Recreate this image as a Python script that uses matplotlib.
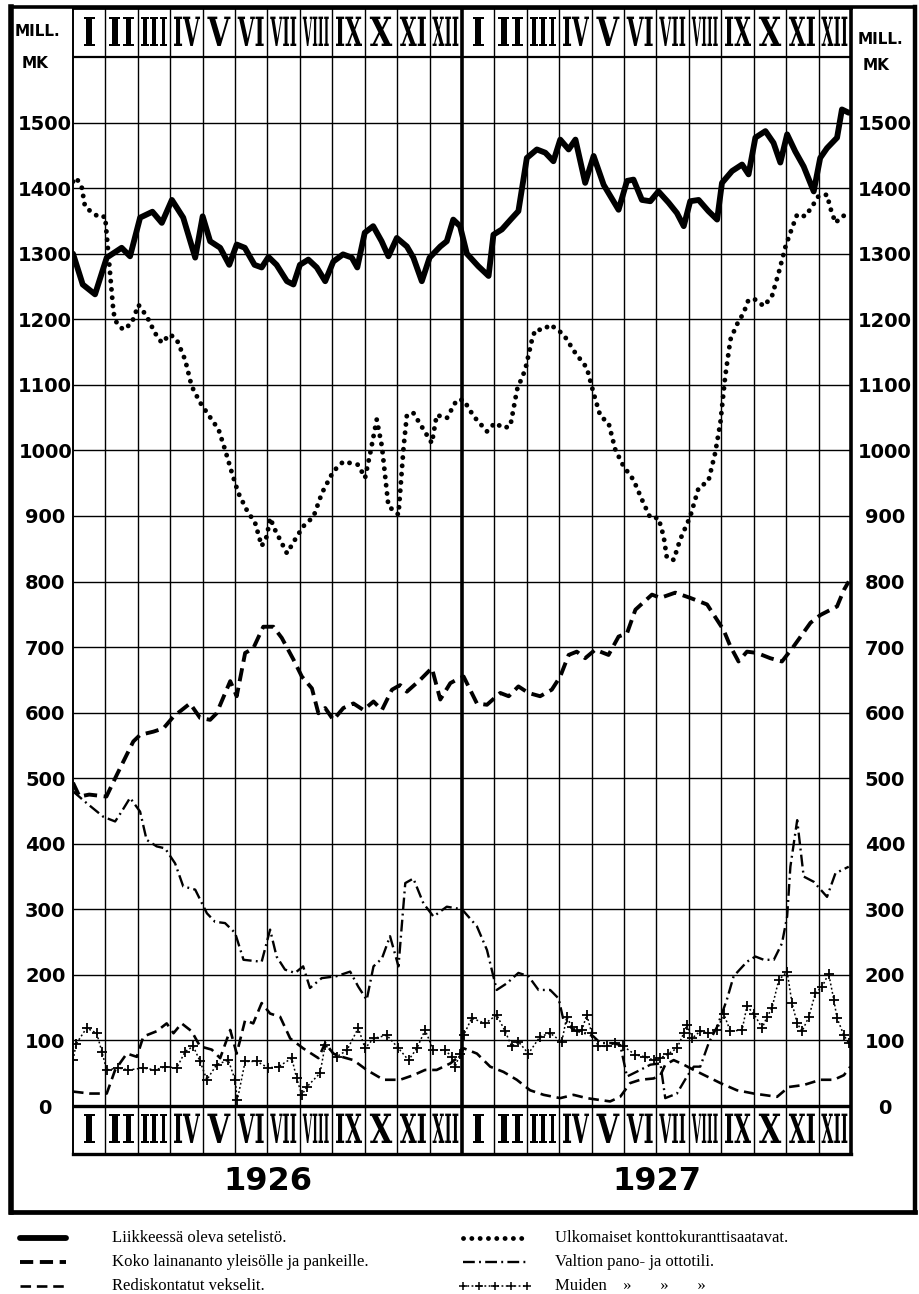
import matplotlib
matplotlib.use("Agg")
import matplotlib.pyplot as plt
from matplotlib.lines import Line2D
import matplotlib.patheffects as pe
from matplotlib.transforms import Affine2D
from matplotlib.textpath import TextPath
from matplotlib.font_manager import FontProperties

# ---------------------------------------------------------------- data
# time axis: months since 1 Jan 1926 (0 .. 24)
month_labels = ["I", "II", "III", "IV", "V", "VI", "VII", "VIII", "IX", "X", "XI", "XII"]
year_labels = ["1926", "1927"]
y_ticks = [0, 100, 200, 300, 400, 500, 600, 700, 800, 900, 1000, 1100, 1200, 1300, 1400, 1500]
y_tick_labels = [str(v) for v in y_ticks]

notes_t = [0, 0.3, 0.68, 1.04, 1.5, 1.76, 2.07, 2.45, 2.74, 3.05, 3.4, 3.77, 4.0, 4.23, 4.54, 4.82,
           5.05, 5.3, 5.6, 5.82, 6.03, 6.28, 6.6, 6.8, 7.0, 7.26, 7.52, 7.78, 8.03, 8.33, 8.6, 8.77,
           9.0, 9.26, 9.52, 9.73, 9.99, 10.3, 10.5, 10.76, 11.0, 11.33, 11.53, 11.73, 11.94, 12.15,
           12.5, 12.82, 12.97, 13.23, 13.5, 13.74, 14.0, 14.31, 14.57, 14.82, 15.03, 15.29, 15.5,
           15.8, 16.06, 16.37, 16.83, 17.09, 17.29, 17.55, 17.81, 18.06, 18.37, 18.63, 18.84, 19.04,
           19.3, 19.6, 19.87, 20.02, 20.33, 20.64, 20.84, 21.05, 21.36, 21.61, 21.82, 22.03, 22.28,
           22.54, 22.85, 23.05, 23.26, 23.57, 23.72, 23.93]
notes_v = [1300, 1253, 1238, 1294, 1309, 1296, 1355, 1364, 1347, 1382, 1355, 1294, 1357, 1319, 1309,
           1283, 1314, 1309, 1283, 1279, 1295, 1283, 1258, 1253, 1283, 1291, 1279, 1258, 1288, 1299,
           1294, 1279, 1332, 1342, 1319, 1296, 1324, 1311, 1294, 1258, 1294, 1311, 1319, 1352, 1342,
           1300, 1281, 1266, 1329, 1337, 1352, 1365, 1446, 1459, 1454, 1441, 1474, 1459, 1474, 1408,
           1449, 1405, 1367, 1411, 1413, 1382, 1380, 1395, 1378, 1362, 1342, 1380, 1382, 1365, 1352,
           1408, 1426, 1436, 1421, 1477, 1487, 1469, 1439, 1482, 1456, 1433, 1395, 1446, 1461, 1477,
           1520, 1515]

foreign_t = [0, 0.1, 0.27, 0.37, 0.58, 0.83, 0.99, 1.25, 1.35, 1.55, 1.81, 2.02, 2.27, 2.53, 2.74,
             2.99, 3.2, 3.46, 3.66, 3.92, 4.18, 4.49, 4.69, 4.9, 5.1, 5.36, 5.62, 5.82, 5.98, 6.08,
             6.23, 6.6, 6.85, 7.1, 7.42, 7.68, 8.03, 8.34, 8.8, 9.01, 9.17, 9.37, 9.53, 9.73, 10.04,
             10.2, 10.3, 10.5, 10.81, 11.07, 11.22, 11.53, 11.84, 12.05, 12.36, 12.77, 13.02, 13.28,
             13.49, 13.7, 13.95, 14.16, 14.26, 14.52, 14.72, 15.13, 15.49, 15.85, 16.06, 16.27, 16.52,
             16.73, 16.98, 17.29, 17.55, 17.81, 18.06, 18.22, 18.32, 18.53, 18.73, 19.04, 19.3, 19.6,
             19.81, 19.97, 20.12, 20.28, 20.48, 20.69, 20.84, 21.05, 21.31, 21.56, 21.77, 21.98,
             22.18, 22.34, 22.59, 22.8, 23.0, 23.26, 23.36, 23.52, 23.72, 23.93]
foreign_v = [1410, 1416, 1401, 1372, 1363, 1355, 1357, 1210, 1194, 1184, 1194, 1222, 1205, 1179, 1164,
             1177, 1169, 1138, 1098, 1073, 1054, 1032, 1001, 966, 935, 909, 889, 854, 869, 897,
             879, 843, 864, 884, 899, 935, 968, 983, 978, 958, 996, 1047, 1006, 915, 902,
             1006, 1054, 1057, 1032, 1011, 1054, 1049, 1077, 1077, 1052, 1029, 1042, 1034,
             1037, 1093, 1123, 1169, 1184, 1184, 1192, 1177, 1149, 1126, 1087, 1052, 1042,
             1001, 976, 955, 925, 897, 897, 869, 836, 833, 864, 899, 943, 953,
             996, 1042, 1113, 1169, 1192, 1210, 1230, 1230, 1220, 1235, 1271, 1311,
             1339, 1360, 1357, 1372, 1388, 1390, 1370, 1347, 1357, 1360]

lending_t = [0, 0.2, 0.5, 1.03, 1.35, 1.86, 2.07, 2.48, 2.79, 3.1, 3.61, 3.92, 4.23, 4.43, 4.85,
             5.05, 5.31, 5.56, 5.87, 6.18, 6.44, 6.8, 7.06, 7.37, 7.57, 7.78, 8.03, 8.34, 8.65,
             8.96, 9.27, 9.53, 9.84, 10.09, 10.3, 10.71, 11.07, 11.33, 11.64, 11.94, 12.05, 12.46,
             12.77, 13.18, 13.44, 13.74, 14.05, 14.41, 14.77, 15.03, 15.29, 15.54, 15.8, 16.11,
             16.52, 16.83, 17.09, 17.35, 17.86, 18.12, 18.58, 19.04, 19.56, 20.07, 20.28, 20.53,
             20.79, 21.1, 21.51, 21.87, 22.23, 22.75, 23.06, 23.57, 23.78, 23.93]
lending_v = [493, 472, 475, 472, 505, 556, 566, 571, 576, 594, 614, 592, 589, 599, 648,
             625, 691, 698, 731, 731, 714, 681, 655, 637, 599, 607, 589, 607, 614,
             604, 617, 604, 635, 642, 632, 650, 668, 620, 645, 653, 655, 614,
             612, 630, 625, 640, 630, 625, 635, 655, 688, 693, 683, 696,
             688, 716, 721, 757, 780, 775, 783, 775, 765, 726, 701, 678,
             693, 691, 683, 678, 701, 737, 749, 762, 787, 800]

rediscount_t = [0, 0.52, 1.04, 1.3, 1.66, 1.97, 2.17, 2.58, 2.89, 3.1, 3.35, 3.66, 3.92, 4.28, 4.54,
                4.85, 5.05, 5.31, 5.56, 5.82, 6.08, 6.39, 6.7, 7.1, 7.57, 7.78, 8.03, 8.29, 8.65,
                9.06, 9.58, 10.09, 10.5, 10.86, 11.22, 11.64, 11.9, 12.05, 12.46, 12.87, 13.28,
                13.69, 14.1, 14.52, 15.03, 15.44, 15.85, 16.27, 16.57, 16.88, 17.19, 17.5, 17.91,
                18.12, 18.27, 18.53, 18.84, 19.15, 19.56, 19.97, 20.48, 21.0, 21.72, 22.08, 22.54,
                23.06, 23.47, 23.78, 23.98]
rediscount_v = [22, 19, 19, 55, 80, 75, 106, 114, 126, 111, 126, 114, 91, 86, 73,
                116, 80, 131, 126, 157, 141, 136, 103, 88, 73, 96, 80, 75, 70,
                55, 40, 40, 47, 55, 55, 65, 75, 88, 80, 60, 52,
                40, 24, 17, 12, 17, 12, 9, 7, 14, 35, 40, 42,
                47, 63, 70, 63, 55, 45, 35, 24, 19, 14, 29, 32,
                40, 40, 47, 60]

state_t = [0, 0.42, 0.94, 1.3, 1.5, 1.76, 2.07, 2.27, 2.58, 2.84, 3.15, 3.4, 3.77, 4.13, 4.38, 4.69,
           5.0, 5.26, 5.82, 6.08, 6.28, 6.54, 6.85, 7.1, 7.31, 7.67, 8.13, 8.55, 8.8, 9.06, 9.27,
           9.53, 9.78, 10.04, 10.25, 10.5, 10.81, 11.12, 11.53, 12.0, 12.46, 12.77, 13.07, 13.38,
           13.74, 14.05, 14.36, 14.72, 14.98, 15.13, 15.44, 15.8, 16.06, 16.27, 16.63, 16.88,
           17.09, 17.5, 17.81, 18.12, 18.27, 18.63, 18.94, 19.15, 19.35, 19.61, 19.87, 20.17,
           20.38, 20.79, 21.05, 21.31, 21.62, 21.87, 22.03, 22.13, 22.34, 22.54, 22.85, 23.26,
           23.52, 23.93]
state_v = [480, 462, 441, 434, 449, 470, 449, 406, 396, 393, 370, 335, 330, 294, 281, 279,
           264, 223, 220, 269, 228, 208, 203, 213, 180, 195, 198, 205, 182, 162, 213,
           225, 259, 213, 340, 347, 309, 289, 304, 300, 274, 238, 177, 187,
           203, 198, 177, 177, 164, 131, 116, 111, 106, 96, 96, 93,
           45, 55, 63, 65, 12, 19, 45, 60, 60, 96, 121, 162,
           198, 220, 228, 223, 223, 248, 289, 365, 436, 350, 342, 319,
           355, 365]

others_t = [0, 0.1, 0.42, 0.73, 0.89, 1.04, 1.4, 1.71, 2.17, 2.53, 2.84, 3.2, 3.46, 3.71, 3.92, 4.13,
            4.43, 4.79, 5.0, 5.07, 5.31, 5.67, 6.03, 6.34, 6.75, 6.9, 7.06, 7.21, 7.62, 7.78, 8.13,
            8.45, 8.8, 9.01, 9.27, 9.68, 10.04, 10.35, 10.61, 10.86, 11.12, 11.48, 11.69, 11.79,
            11.94, 12.05, 12.3, 12.72, 13.07, 13.33, 13.53, 13.74, 14.05, 14.41, 14.72, 15.08,
            15.23, 15.39, 15.54, 15.7, 15.85, 16.0, 16.21, 16.47, 16.73, 16.98, 17.35, 17.65,
            17.91, 18.12, 18.37, 18.63, 18.84, 18.94, 19.09, 19.35, 19.6, 19.87, 20.07, 20.28,
            20.64, 20.79, 21.0, 21.26, 21.41, 21.56, 21.77, 22.03, 22.18, 22.34, 22.49, 22.7,
            22.9, 23.11, 23.31, 23.47, 23.57, 23.78, 23.93]
others_v = [70, 95, 119, 111, 83, 55, 58, 55, 58, 55, 60, 58, 83, 91, 68, 40,
            63, 70, 40, 9, 68, 68, 58, 60, 73, 42, 17, 29, 50, 93, 75,
            85, 119, 88, 103, 108, 88, 70, 88, 116, 85, 85, 75, 60,
            80, 108, 134, 126, 139, 114, 91, 98, 80, 106, 111, 98,
            136, 121, 114, 116, 139, 111, 91, 91, 96, 91, 78, 75,
            70, 73, 80, 88, 111, 124, 103, 114, 111, 116, 141, 114,
            116, 152, 141, 119, 136, 149, 192, 205, 157, 126, 114, 136,
            172, 182, 202, 162, 134, 108, 96]

legend_labels = ["Liikkeessä oleva setelistö.",
                 "Koko lainananto yleisölle ja pankeille.",
                 "Rediskontatut vekselit.",
                 "Ulkomaiset konttokuranttisaatavat.",
                 "Valtion pano- ja ottotili.",
                 "Muiden    \u00bb       \u00bb       \u00bb"]

# ---------------------------------------------------------------- styles
S_NOTES = dict(color="black", lw=4.2, solid_joinstyle="round", solid_capstyle="round")
S_FOREIGN = dict(color="black", lw=3.5, linestyle=(0, (0.01, 1.7)), dash_capstyle="round")
S_LENDING = dict(color="black", lw=2.8, linestyle=(0, (3.4, 1.7)), dash_capstyle="butt")
S_REDISC = dict(color="black", lw=1.9, linestyle=(0, (4.0, 2.2)))
S_STATE = dict(color="black", lw=1.7, linestyle=(0, (5.0, 1.8, 0.8, 1.8)))
S_OTHERS = dict(color="black", lw=1.1, linestyle=(0, (1.2, 1.6)), marker="+",
                markersize=7, markeredgewidth=1.3)

# ---------------------------------------------------------------- layout (pixels)
W, H = 919, 1294
fig = plt.figure(figsize=(W / 100, H / 100), dpi=100)
fig.patch.set_facecolor("white")
pix = Affine2D().scale(1.0 / W, -1.0 / H).translate(0, 1) + fig.transFigure

AX_L, AX_R = 73, 851
AX_T, AX_B = 8, 1154
Y0_PX, YTOP_PX = 1106, 57
ppu = (Y0_PX - YTOP_PX) / 1600.0
ytop = 1600 + (YTOP_PX - AX_T) / ppu
ybot = -(AX_B - Y0_PX) / ppu

ax = fig.add_axes([AX_L / W, 1 - AX_B / H, (AX_R - AX_L) / W, (AX_B - AX_T) / H])
ax.set_xlim(0, 24)
ax.set_ylim(ybot, ytop)
ax.set_facecolor("white")
ax.set_xticks([])

# grid
levels = list(range(100, 1600, 100))
ax.hlines(levels, 0, 24, color="black", lw=1.0, zorder=1)
ax.hlines([0], 0, 24, color="black", lw=2.4, zorder=5)
ax.hlines([1600], 0, 24, color="black", lw=1.6, zorder=5)
bounds = [m for m in range(1, 24) if m != 12]
ax.vlines(bounds, ybot, ytop, color="black", lw=1.0, zorder=1)
ax.vlines([12], ybot, ytop, color="black", lw=2.6, zorder=5)

for side, lw in (("left", 1.4), ("right", 2.6), ("top", 2.0), ("bottom", 2.4)):
    ax.spines[side].set_linewidth(lw)
    ax.spines[side].set_color("black")

# series
ax.plot(rediscount_t, rediscount_v, zorder=3, **S_REDISC)
ax.plot(state_t, state_v, zorder=3, **S_STATE)
ax.plot(others_t, others_v, zorder=3, **S_OTHERS)
ax.plot(lending_t, lending_v, zorder=4, **S_LENDING)
ax.plot(foreign_t, foreign_v, zorder=4, **S_FOREIGN)
ax.plot(notes_t, notes_v, zorder=6, **S_NOTES)

# y tick labels on both sides
tick_font = dict(fontweight="bold", fontsize=14, family="DejaVu Sans")
ax.set_yticks(y_ticks)
ax.set_yticklabels(y_tick_labels, ha="center", **tick_font)
ax.tick_params(axis="y", length=0, pad=20)
ax2 = ax.twinx()
ax2.set_ylim(ybot, ytop)
ax2.set_yticks(y_ticks)
ax2.set_yticklabels(y_tick_labels, ha="center", **tick_font)
ax2.tick_params(axis="y", length=0, pad=24.5)
for s in ax2.spines.values():
    s.set_visible(False)


# tall, narrow roman numerals: real text whose glyphs are stretched upward from
# the baseline by a path effect, so the text box keeps its narrow width
class Stretch(pe.AbstractPathEffect):
    def __init__(self, sy):
        super().__init__()
        self.sy = sy

    def draw_path(self, renderer, gc, tpath, affine, rgbFace=None):
        a = Affine2D().scale(1.0, self.sy) + affine
        renderer.draw_path(gc, tpath, a, rgbFace)


num_fp = FontProperties(family="DejaVu Serif", weight="bold")
NUM_SIZE = 29          # apparent height (pt) of the numerals
MAX_W_PX = 26.0        # widest numeral inside a month cell
head_base = 1600 + (YTOP_PX - 46) / ppu
foot_base = -(1143 - Y0_PX) / ppu
for i in range(24):
    lab = month_labels[i % 12]
    w_nat = TextPath((0, 0), lab, size=NUM_SIZE, prop=num_fp).get_extents().width * 100 / 72
    w_want = min(0.72 * w_nat, MAX_W_PX)
    fs = NUM_SIZE * w_want / w_nat
    sy = NUM_SIZE / fs
    for yb in (head_base, foot_base):
        ax.text(i + 0.5, yb, lab, ha="center", va="baseline", fontproperties=num_fp,
                fontsize=fs, zorder=7, path_effects=[Stretch(sy)])

# year labels
year_v = -(1182 - Y0_PX) / ppu
for k, yl in enumerate(year_labels):
    ax.text(6 + 12 * k, year_v, yl, ha="center", va="center", fontsize=23,
            fontweight="bold", family="DejaVu Sans", clip_on=False)

# MILL. MK captions
cap = dict(fontsize=11, fontweight="bold", family="DejaVu Sans", ha="center", va="center",
           transform=pix)
fig.text(37, 32, "MILL.", **cap)
fig.text(35, 63, "MK", **cap)
fig.text(880, 40, "MILL.", **cap)
fig.text(876, 66, "MK", **cap)

# outer frame
FR_L, FR_R, FR_T, FR_B = 11, 915, 7, 1212
fig.add_artist(Line2D([FR_L, FR_L], [FR_T, FR_B], color="black", lw=4.0, transform=pix))
fig.add_artist(Line2D([FR_R, FR_R], [FR_T, FR_B], color="black", lw=3.2, transform=pix))
fig.add_artist(Line2D([FR_L, FR_R], [FR_T, FR_T], color="black", lw=2.6, transform=pix))
fig.add_artist(Line2D([FR_L, FR_R], [FR_B, FR_B], color="black", lw=3.4, transform=pix))

# legend
rows = [1238, 1262, 1286]
leg_font = dict(fontsize=12, family="Liberation Serif", va="center", ha="left", transform=pix)
styles = [S_NOTES, S_LENDING, S_REDISC, S_FOREIGN, S_STATE, S_OTHERS]
for j, (lab, st) in enumerate(zip(legend_labels, styles)):
    col = j // 3
    yrow = rows[j % 3]
    x0, x1, xt = (20, 66, 112) if col == 0 else (463, 527, 555)
    if st is S_OTHERS:
        st2 = dict(st, markersize=6, markeredgewidth=1.1)
        xs = [x0 + (x1 - x0) * q / 4 for q in range(5)]
        fig.add_artist(Line2D(xs, [yrow] * 5, transform=pix, **st2))
    else:
        fig.add_artist(Line2D([x0, x1], [yrow, yrow], transform=pix, **st))
    fig.text(xt, yrow, lab, **leg_font)

fig.savefig("out.png", dpi=100, facecolor="white")
